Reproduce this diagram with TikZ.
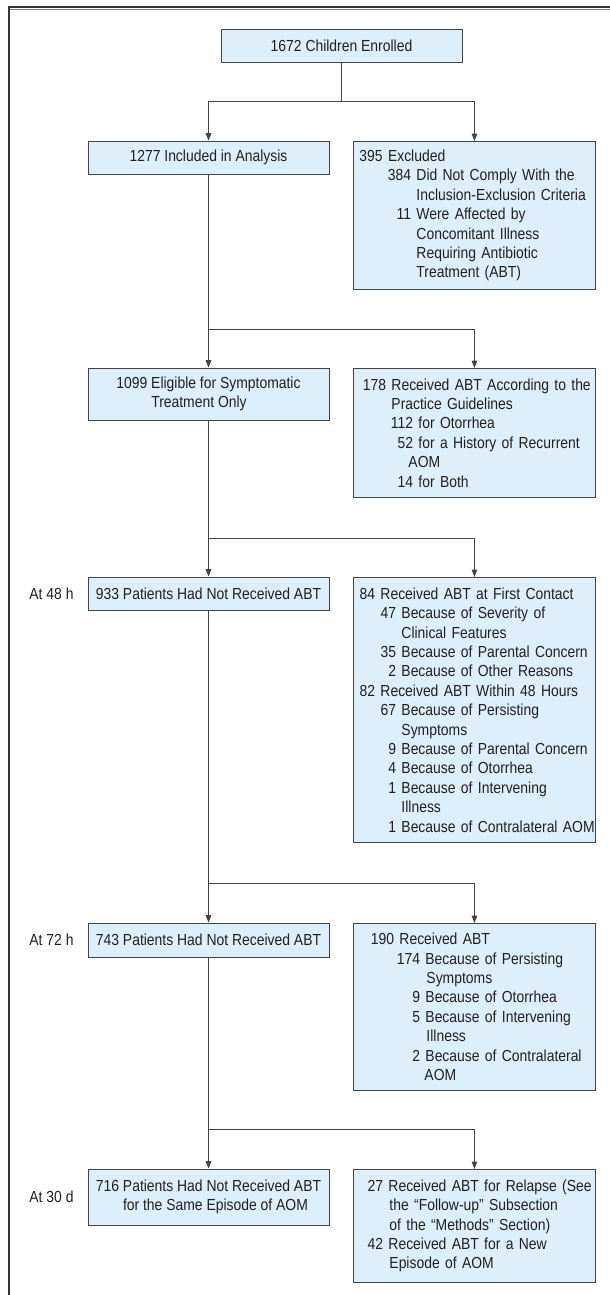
\documentclass[tikz,border=0pt]{standalone}
\usepackage{fontspec}
\setmainfont{Liberation Sans}[FakeStretch=0.87]
\usetikzlibrary{arrows.meta}
\definecolor{boxfill}{HTML}{DDEFFA}
\definecolor{linec}{HTML}{444444}
\definecolor{framec}{HTML}{333333}
\definecolor{framelt}{HTML}{7A7A7A}
\definecolor{txt}{HTML}{231F20}
\newdimen\pxu \pxu=0.75pt
\newcommand\lineat[2]{\makebox[0pt][l]{\hspace*{#1\pxu}#2}}
\newcommand\numat[3]{\makebox[0pt][l]{\hspace*{#1\pxu}\llap{#2\ }#3}}
\begin{document}
\begin{tikzpicture}[x=0.75pt,y=-0.75pt,
  every node/.style={font=\fontsize{12}{14.55}\selectfont, text=txt},
  lbox/.style={draw=linec, line width=0.7pt, fill=boxfill, inner sep=0pt, minimum width=241*0.75pt, align=left},
  rbox/.style={draw=linec, line width=0.7pt, fill=boxfill, inner xsep=0pt, inner ysep=0pt, text width=242*0.75pt, align=left, anchor=north west},
  conn/.style={draw=linec, line width=0.7pt},
  arr/.style={conn, -{Triangle[width=4.2pt,length=5.5pt]}},
  lab/.style={inner sep=0pt},
  frameline/.style={draw=framec, line width=1pt}
]
\useasboundingbox (0,0) rectangle (610,1295);
% frame
\coordinate (ftl) at (8,7);
\coordinate (ftr) at (610,7);
\coordinate (fbl) at (9,1295);
\draw[frameline] (ftl) -- (ftr);
\draw[draw=framelt, line width=0.7pt] ([yshift=-2.5*0.75pt]ftl) -- ([yshift=-2.5*0.75pt]ftr);
\draw[frameline, line width=1.2pt] (9,7) -- (fbl);

% boxes
\node[lbox, minimum height=33*0.75pt] (enr) at (341.5,45.5) {1672 Children Enrolled};
\node[lbox, minimum height=33*0.75pt] (inc) at (208.5,157.5) {1277 Included in Analysis};
\node[rbox, minimum height=148*0.75pt] (exc) at (353,141) {%
\lineat{6}{395 Excluded}\\
\numat{63}{384}{Did Not Comply With the}\\
\lineat{63}{Inclusion-Exclusion Criteria}\\
\numat{63}{11}{Were Affected by}\\
\lineat{63}{Concomitant Illness}\\
\lineat{63}{Requiring Antibiotic}\\
\lineat{63}{Treatment (ABT)}};

\node[lbox, minimum height=52*0.75pt] (elig) at (208.5,394) {1099 Eligible for Symptomatic\\\phantom{1099}\ Treatment Only};
\node[rbox, minimum height=129*0.75pt] (guide) at (353,368) {%
\numat{38}{178}{Received ABT According to the}\\
\lineat{38}{Practice Guidelines}\\
\numat{65}{112}{for Otorrhea}\\
\numat{65}{52}{for a History of Recurrent}\\
\lineat{55}{AOM}\\
\numat{65}{14}{for Both}};

\node[lab] (l48) at (51.5,593.5) {At 48 h};
\node[lbox, minimum height=33*0.75pt] (p48) at (208.5,593.5) {933 Patients Had Not Received ABT};
\node[rbox, minimum height=265*0.75pt] (r48) at (353,577) {%
\numat{27}{84}{Received ABT at First Contact}\\
\numat{48}{47}{Because of Severity of}\\
\lineat{48}{Clinical Features}\\
\numat{48}{35}{Because of Parental Concern}\\
\numat{48}{2}{Because of Other Reasons}\\
\numat{27}{82}{Received ABT Within 48 Hours}\\
\numat{48}{67}{Because of Persisting}\\
\lineat{48}{Symptoms}\\
\numat{48}{9}{Because of Parental Concern}\\
\numat{48}{4}{Because of Otorrhea}\\
\numat{48}{1}{Because of Intervening}\\
\lineat{48}{Illness}\\
\numat{48}{1}{Because of Contralateral AOM}};

\node[lab] (l72) at (51.5,940) {At 72 h};
\node[lbox, minimum height=34*0.75pt] (p72) at (208.5,940) {743 Patients Had Not Received ABT};
\node[rbox, minimum height=167*0.75pt] (r72) at (353,923) {%
\numat{46}{190}{Received ABT}\\
\numat{72}{174}{Because of Persisting}\\
\lineat{73}{Symptoms}\\
\numat{72}{9}{Because of Otorrhea}\\
\numat{72}{5}{Because of Intervening}\\
\lineat{73}{Illness}\\
\numat{72}{2}{Because of Contralateral}\\
\lineat{71}{AOM}};

\node[lab] (l30) at (51.5,1197) {At 30 d};
\node[lbox, minimum height=56*0.75pt] (p30) at (208.5,1197) {716 Patients Had Not Received ABT\\\phantom{716}\ for the Same Episode of AOM};
\node[rbox, minimum height=113*0.75pt] (r30) at (353,1169) {%
\numat{35}{27}{Received ABT for Relapse (See}\\
\lineat{36}{the “Follow-up” Subsection}\\
\lineat{36}{of the “Methods” Section)}\\
\numat{35}{42}{Received ABT for a New}\\
\lineat{36}{Episode of AOM}};

% connectors
\coordinate (h1) at (341.5,101);
\coordinate (h2) at (208.5,329);
\coordinate (h3) at (208.5,538);
\coordinate (h4) at (208.5,883);
\coordinate (h5) at (208.5,1129);

\draw[conn] (enr.south) -- (enr.south |- h1);
\draw[arr] (enr.south |- h1) -- (h1 -| inc.north) -- (inc.north);
\draw[arr] (enr.south |- h1) -- (h1 -| exc.north) -- (exc.north);

\draw[arr] (inc.south) -- (elig.north);
\draw[arr] (inc.south |- h2) -- (h2 -| guide.north) -- (guide.north);

\draw[arr] (elig.south) -- (p48.north);
\draw[arr] (elig.south |- h3) -- (h3 -| r48.north) -- (r48.north);

\draw[arr] (p48.south) -- (p72.north);
\draw[arr] (p48.south |- h4) -- (h4 -| r72.north) -- (r72.north);

\draw[arr] (p72.south) -- (p30.north);
\draw[arr] (p72.south |- h5) -- (h5 -| r30.north) -- (r30.north);
\end{tikzpicture}
\end{document}
